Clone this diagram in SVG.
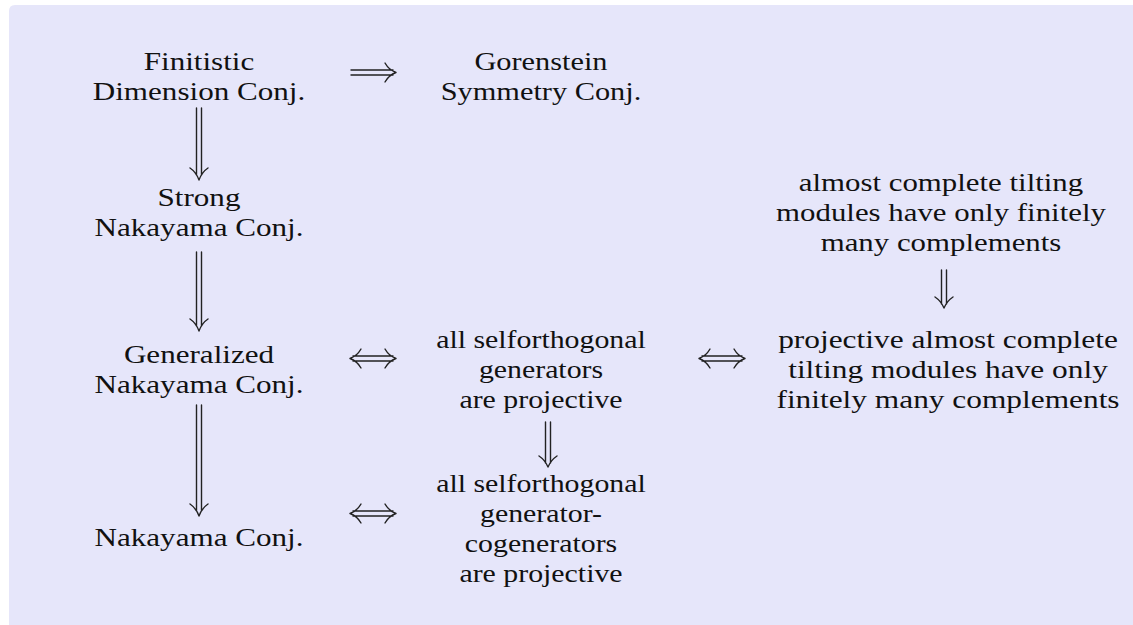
<svg xmlns="http://www.w3.org/2000/svg" width="1133" height="625" viewBox="0 0 1133 625">
<style>
text{font-family:"Liberation Serif","Times New Roman",serif;font-size:25.5px;fill:#111;text-anchor:middle}
.ar{fill:none;stroke:#222;stroke-width:1.4;stroke-linecap:round;stroke-linejoin:round}
</style>
<path d="M9,11 Q9,5 15,5 H1133 V625 H9 Z" fill="#e6e6fa"/>
<g id="n-fdc" transform="translate(199 0) scale(1.22 1)"><text x="0" y="70">Finitistic</text><text x="0" y="100">Dimension Conj.</text></g>
<g id="n-gsc" transform="translate(541 0) scale(1.19 1)"><text x="0" y="70">Gorenstein</text><text x="0" y="100">Symmetry Conj.</text></g>
<g id="n-snc" transform="translate(199 0) scale(1.22 1)"><text x="0" y="206">Strong</text><text x="0" y="236">Nakayama Conj.</text></g>
<g id="n-gnc" transform="translate(199 0) scale(1.22 1)"><text x="0" y="363">Generalized</text><text x="0" y="393">Nakayama Conj.</text></g>
<g id="n-nc" transform="translate(199 0) scale(1.22 1)"><text x="0" y="546">Nakayama Conj.</text></g>
<g id="n-gen" transform="translate(541 0) scale(1.17 1)"><text x="0" y="348">all selforthogonal</text><text x="0" y="378">generators</text><text x="0" y="408">are projective</text></g>
<g id="n-gencogen" transform="translate(541 0) scale(1.17 1)"><text x="0" y="492">all selforthogonal</text><text x="0" y="522">generator-</text><text x="0" y="552">cogenerators</text><text x="0" y="582">are projective</text></g>
<g id="n-act" transform="translate(941 0) scale(1.21 1)"><text x="0" y="191">almost complete tilting</text><text x="0" y="221">modules have only finitely</text><text x="0" y="251">many complements</text></g>
<g id="n-pact" transform="translate(948 0) scale(1.23 1)"><text x="0" y="348">projective almost complete</text><text x="0" y="378">tilting modules have only</text><text x="0" y="408">finitely many complements</text></g>
<g id="connectors">
<path class="ar" d="M351,70 H393 M351,75 H393 M385,63 Q389,70 396,72.5 Q389,75 385,82"/>
<path class="ar" d="M196.5,108 V175 M201.5,108 V175 M190,168 Q196,172 199,180 Q202,172 208,168"/>
<path class="ar" d="M196.5,252 V326 M201.5,252 V326 M190,319 Q196,323 199,331 Q202,323 208,319"/>
<path class="ar" d="M196.5,405 V511 M201.5,405 V511 M190,504 Q196,508 199,516 Q202,508 208,504"/>
<path class="ar" d="M353,356 H393 M353,361 H393 M385,349 Q389,356 396,358.5 Q389,361 385,368 M361,349 Q357,356 350,358.5 Q357,361 361,368"/>
<path class="ar" d="M353,511 H393 M353,516 H393 M385,504 Q389,511 396,513.5 Q389,516 385,523 M361,504 Q357,511 350,513.5 Q357,516 361,523"/>
<path class="ar" d="M702,356 H742 M702,361 H742 M734,349 Q738,356 745,358.5 Q738,361 734,368 M710,349 Q706,356 699,358.5 Q706,361 710,368"/>
<path class="ar" d="M545.5,422 V463 M550.5,422 V463 M539,456 Q545,460 548,467 Q551,460 557,456"/>
<path class="ar" d="M941.5,270 V304 M946.5,270 V304 M935,297 Q941,301 944,308 Q947,301 953,297"/>
</g>
</svg>
